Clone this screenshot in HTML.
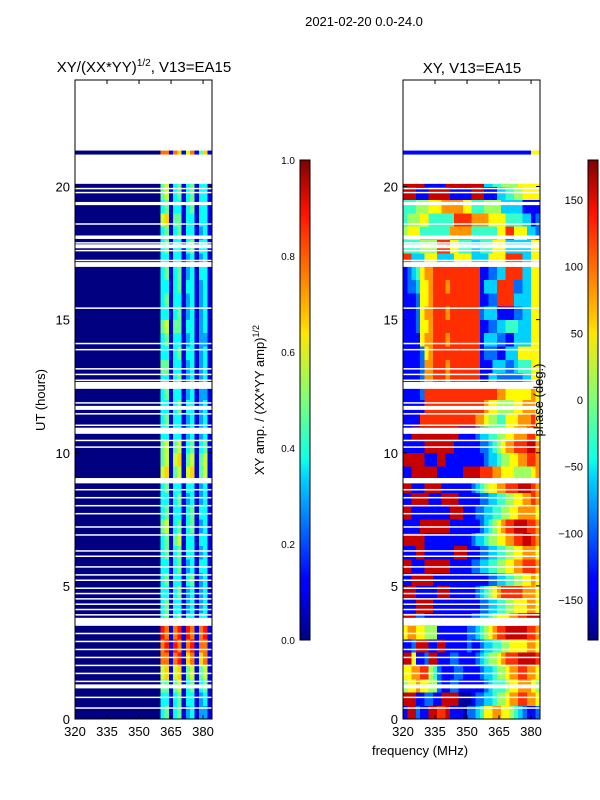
<!DOCTYPE html>
<html><head><meta charset="utf-8"><style>
body{margin:0;background:#fff;}
svg{display:block;font-family:"Liberation Sans",sans-serif;}
</style></head><body>
<svg id="fig" width="600" height="800" viewBox="0 0 600 800">
<defs>
<linearGradient id="jetg" x1="0" y1="1" x2="0" y2="0">
<stop offset="0" stop-color="#00007f"/><stop offset="0.11" stop-color="#0000ff"/><stop offset="0.125" stop-color="#0000ff"/>
<stop offset="0.34" stop-color="#00d4ff"/><stop offset="0.375" stop-color="#0dffea"/><stop offset="0.5" stop-color="#7dff7a"/>
<stop offset="0.64" stop-color="#ffe600"/><stop offset="0.66" stop-color="#ffd000"/><stop offset="0.89" stop-color="#ff1200"/>
<stop offset="1" stop-color="#7f0000"/></linearGradient>
</defs>
<text x="364" y="26" font-size="13" text-anchor="middle">2021-02-20 0.0-24.0</text>
<text x="144" y="72" font-size="15" text-anchor="middle">XY/(XX*YY)<tspan font-size="10" dy="-6">1/2</tspan><tspan dy="6">, V13=EA15</tspan></text>
<text x="472" y="73" font-size="15" text-anchor="middle">XY, V13=EA15</text>
<g id="left"></g>
<g id="right"></g>
<rect x="75" y="80" width="137" height="639" fill="none" stroke="#000"/>
<rect x="403" y="80" width="137" height="639" fill="none" stroke="#000"/>
<g id="ticks" font-size="13"></g>
<text transform="translate(45,400) rotate(-90)" font-size="13" text-anchor="middle">UT (hours)</text>
<text x="420" y="755" font-size="13" text-anchor="middle">frequency (MHz)</text>
<rect x="300" y="160" width="10" height="480" fill="url(#jetg)" stroke="#000"/>
<rect x="588" y="160" width="10" height="480" fill="url(#jetg)" stroke="#000"/>
<text transform="translate(264,400) rotate(-90)" font-size="13" text-anchor="middle">XY amp. / (XX*YY amp)<tspan font-size="9" dy="-5">1/2</tspan></text>
<text transform="translate(543,400) rotate(-90)" font-size="13" text-anchor="middle">phase (deg.)</text>
</svg>
<script>
const ampRows=[
"00000000000000000000451451341331","00000000000000000000441451441341","00000000000000000000551561451451","00000000000000000000671671561561",
"00000000000000000000881891781781","00000000000000000000891981891881","00000000000000000000981891981891","00000000000000000000451451441441",
"00000000000000000000451441341341","00000000000000000000441451341341","00000000000000000000451441451341","00000000000000000000441451341441",
"00000000000000000000451451441341","00000000000000000000451561441441","00000000000000000000561451451341","00000000000000000000451441451441",
"00000000000000000000441451341341","00000000000000000000451441441341","00000000000000000000671561671561","00000000000000000000561671561561",
"00000000000000000000561561451451","00000000000000000000441441341341","00000000000000000000451441341341","00000000000000000000441451441341",
"00000000000000000000451441341331","00000000000000000000441451341341","00000000000000000000551441341341","00000000000000000000441451441341",
"00000000000000000000451441341331","00000000000000000000561551441341","00000000000000000000441451341341","00000000000000000000451441341341",
"00000000000000000000441451441341","00000000000000000000451451341441","00000000000000000000441441341341","00000000000000000000451441451441",
"00000000000000000000451451441341","00000000000000000000671551441441","00000000000000000000451441451441","00000000000000000000561451451441",
"00000000000000000000561451451441","00000000000000000000881871681571","00000000000000000000881871681571"];
const phaseRows=[
"19921199"+"88911102"+"23466776"+"65432112","99911221"+"19999000"+"12233455"+"67788776","56676655"+"21122111"+"11123444"+"56677765",
"66778854"+"21112211"+"11233455"+"67788776","99611299"+"11122111"+"12345567"+"88899998","11299911"+"99111112"+"11233445"+"56666776",
"67766555"+"11111112"+"23456788"+"99999887","99922111"+"11111111"+"22334566"+"67788999","11199991"+"11111111"+"11223344"+"55666776",
"99911111"+"99911111"+"12345678"+"88887776","11999991"+"11111111"+"11112233"+"44556676","99111999"+"99911111"+"22334455"+"66778887",
"11199111"+"11119991"+"11223344"+"55667776","99999111"+"11111111"+"23345566"+"77889987","11119999"+"99911111"+"11234567"+"88999887",
"99111111"+"11199911"+"12233445"+"56677776","11999911"+"19999111"+"11223344"+"55667787","99111999"+"91111111"+"23456677"+"88899987",
"11999999"+"11111199"+"99888776"+"66555567","99999111"+"99111111"+"11123345"+"56677887","11111999"+"99991111"+"11223456"+"77888997",
"11999999"+"99999111"+"12334455"+"66777886","11118888"+"88888888"+"87765544"+"66677786","11111888"+"88888888"+"88876655"+"55667776",
"11112888"+"88888888"+"88888877"+"66666676","11112778"+"88788888"+"88113322"+"22223366","11112778"+"88788888"+"88111333"+"22344466",
"11112678"+"88888888"+"88122211"+"33366666","11116778"+"88788888"+"88133322"+"11333366","11126678"+"88888888"+"88112233"+"44433366",
"11126778"+"88788888"+"88233311"+"11223366","11126678"+"88888888"+"88112288"+"88333366","12236678"+"88788888"+"88133388"+"88223366",
"12346778"+"88888888"+"88112233"+"88883366","88333666"+"33336666"+"33336666"+"88883366","44445555"+"88866444"+"33444666"+"33333366",
"56664444"+"44477777"+"44444466"+"88666332","45556644"+"44448888"+"77776666"+"44443312","44455566"+"67777766"+"44455553"+"33331111",
"99911199"+"99911111"+"99911133"+"44556666","99999111"+"11999999"+"99933445"+"55566666","11111111"+"11111111"+"11111111"+"11111166",
"11111111"+"11111111"+"11111111"+"11111166"];
const gapStart=[20.1,21.35,19.9,19.76,19.3,18.57,18.03,17.87,17.68,17.58,17.21,16.98,15.42,14.09,13.86,13.14,12.93,12.71,12.4,11.86,11.61,11.45,11.02,10.71,10.45,10.2,8.85,8.6,8.3,8.0,7.7,7.2,6.9,6.3,6.1,5.7,5.4,5.2,4.9,4.7,4.5,4.3,4.1,3.9,3.5,3.2,2.9,2.6,2.3,2.0,1.7,1.4,1.15,0.8,0.4];
const gapEnd=[21.2,24,19.95,19.8,19.42,18.62,18.16,17.91,17.83,17.62,17.25,17.16,15.46,14.13,13.9,13.18,12.97,12.75,12.66,11.9,11.76,11.49,11.06,10.94,10.49,10.24,9.05,8.64,8.34,8.04,7.74,7.24,6.94,6.34,6.14,5.74,5.44,5.24,4.94,4.74,4.54,4.34,4.14,3.94,3.8,3.24,2.94,2.64,2.34,2.04,1.74,1.44,1.3,0.84,0.44];
const yTicks=[0,5,10,15,20];
const xTicks=[320,335,350,365,380];
const ampTicks=[0.0,0.2,0.4,0.6,0.8,1.0];
const phaseTicks=[-150,-100,-50,0,50,100,150];

const NS="http://www.w3.org/2000/svg";
const fMin=320,fMax=384.2,rowH=0.5,colW=2;
function yS(h){return 719-h*(639/24);}
function xS(f,x0){return x0+(f-fMin)*(137/(fMax-fMin));}
function jet(v){
 const c=t=>Math.max(0,Math.min(1,t));
 const r=c(1.5-Math.abs(4*v-3)),g=c(1.5-Math.abs(4*v-2)),b=c(1.5-Math.abs(4*v-1));
 return `rgb(${Math.round(r*255)},${Math.round(g*255)},${Math.round(b*255)})`;
}
function mk(tag,attrs,parent){const e=document.createElementNS(NS,tag);for(const k in attrs)e.setAttribute(k,attrs[k]);parent.appendChild(e);return e;}
function drawHeat(gid,rows,x0,name,scale){
 const g=document.getElementById(gid);
 rows.forEach((row,i)=>{
  for(let j=0;j<32;j++){
   const d=parseInt(row[j]||"0");
   const f0=fMin+j*colW,f1=Math.min(fMax,f0+colW);
   const xa=xS(f0,x0),xb=xS(f1,x0);
   const ya=yS(i*rowH+rowH),yb=yS(i*rowH);
   const r=mk('rect',{x:xa.toFixed(2),y:ya.toFixed(2),width:(xb-xa+0.3).toFixed(2),height:(yb-ya+0.3).toFixed(2),fill:jet(scale(d)),'shape-rendering':'crispEdges'},g);
   
   
  }
 });
 gapStart.forEach((s,k)=>{
  const e=gapEnd[k];
  const ya=yS(Math.min(24,e)),yb=yS(s);
  const r=mk('rect',{x:x0,y:ya.toFixed(2),width:137,height:Math.max(1.5,yb-ya).toFixed(2),fill:'#fff'},g);
  
  
 });
}
drawHeat('left',ampRows,75,'amp-cell',d=>d/10.5);
drawHeat('right',phaseRows,403,'phase-cell',d=>(d+0.3)/10);
const tg=document.getElementById('ticks');
[75,403].forEach(x0=>{
 yTicks.forEach(h=>{
  const y=yS(h);
  let l=mk('line',{x1:x0,x2:x0+4,y1:y,y2:y,stroke:'#000'},tg);
  
  
  l=mk('line',{x1:x0+137,x2:x0+133,y1:y,y2:y,stroke:'#000'},tg);
  
  
  const t=mk('text',{x:x0-5,y:y+5,'text-anchor':'end'},tg);t.textContent=h;
  
  
 });
 xTicks.forEach(f=>{
  const x=xS(f,x0);
  let l=mk('line',{x1:x,x2:x,y1:719,y2:715,stroke:'#000'},tg);
  
  
  l=mk('line',{x1:x,x2:x,y1:80,y2:84,stroke:'#000'},tg);
  
  
  const t=mk('text',{x:x,y:736,'text-anchor':'middle'},tg);t.textContent=f;
  
  
 });
});
ampTicks.forEach(v=>{
 const y=640-v*480;
 const t=mk('text',{x:295,y:y+4,'text-anchor':'end','font-size':'10'},tg);t.textContent=v.toFixed(1);
 
 
});
phaseTicks.forEach(v=>{
 const y=640-(v+180)/360*480;
 const t=mk('text',{x:583,y:y+4,'text-anchor':'end','font-size':'11'},tg);t.textContent=v<0?'\u2212'+(-v):v;
 
 
});
</script>
</body></html>
